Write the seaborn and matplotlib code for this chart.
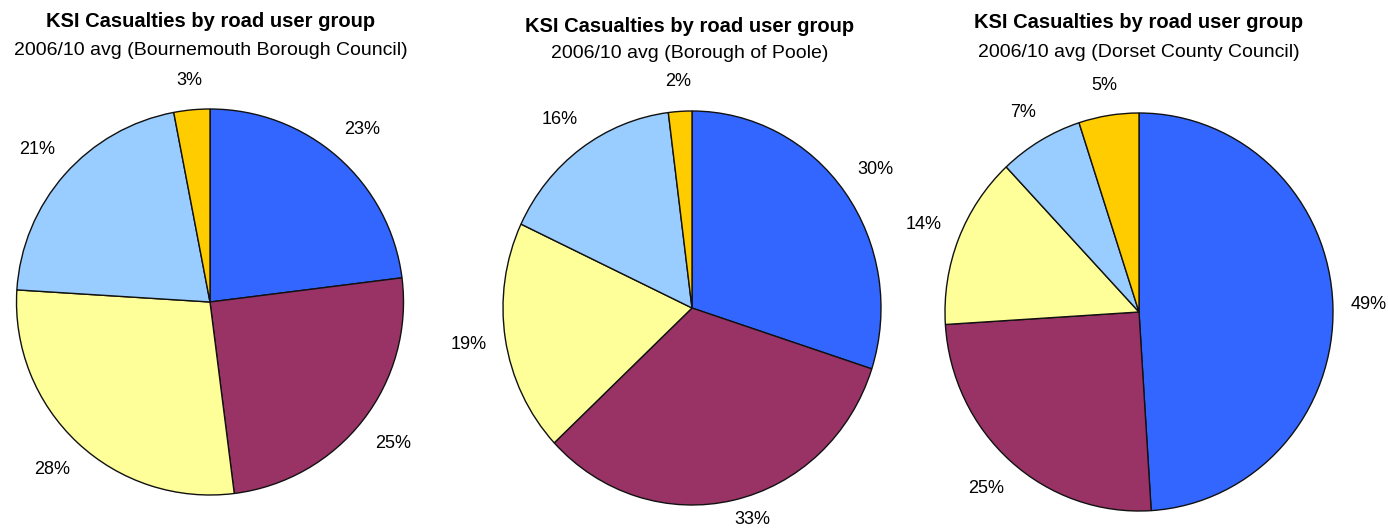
import matplotlib
matplotlib.use("Agg")
import numpy as np
import matplotlib.pyplot as plt
import seaborn as sns

# %% Data
groups = ['Car', 'Motorcycle', 'Pedestrian', 'Pedal cycle', 'Other']
councils = ['Bournemouth Borough Council', 'Borough of Poole', 'Dorset County Council']
bournemouth = [23, 25, 28, 21, 3]
poole = [30, 33, 19, 16, 2]
dorset = [49, 25, 14, 7, 5]
shares = [bournemouth, poole, dorset]

colours = sns.color_palette(['#3366FF', '#993366', '#FFFF99', '#99CCFF', '#FFCC00'])

sns.set_style("white")
plt.rcParams['font.family'] = ['Liberation Sans', 'DejaVu Sans']
plt.rcParams['text.color'] = 'black'

W, H = 1388, 530
fig = plt.figure(figsize=(W / 100, H / 100), dpi=100)

# pie centre x, y (px), radius x, y (px), title baseline, subtitle baseline, title centre x
layout = [
    (210, 302, 193.5, 193, 27, 55, 211),
    (692, 308, 189, 197, 32, 58, 690),
    (1139, 312, 194, 199, 28, 57, 1139),
]

gap = 21      # px between pie edge and label box
hw, hh = 15, 8  # approx half width / half height of a label in px

for vals, name, (cx, cy, rx, ry, tb, sb, tx) in zip(shares, councils, layout):
    ax = fig.add_axes([(cx - rx) / W, (H - cy - ry) / H, 2 * rx / W, 2 * ry / H])
    wedges, _ = ax.pie(vals, colors=colours, startangle=90, counterclock=False, radius=1,
                       wedgeprops=dict(edgecolor='#111111', linewidth=1.0))
    ax.set_xlim(-1, 1)
    ax.set_ylim(-1, 1)
    ax.set_aspect('auto')
    ax.axis('off')

    # lowest label centre allowed so nothing drops off the bottom edge
    y_min = -(H - 11 - cy) / ry

    # Place the percentage labels just outside the pie edge, Excel style
    for w, v in zip(wedges, vals):
        theta = np.deg2rad((w.theta1 + w.theta2) / 2)
        c, s = np.cos(theta), np.sin(theta)
        half_w = hw if v >= 10 else hw * 0.7
        d = gap + half_w * abs(c) + hh * abs(s)
        lx, ly = c * (1 + d / rx), s * (1 + d / ry)
        if ly < y_min:
            lx, ly = lx + 12 / rx, y_min
        ax.text(lx, ly, f"{v}%", ha='center', va='center', fontsize=13, clip_on=False)

    fig.text(tx / W, 1 - tb / H, "KSI Casualties by road user group",
             ha='center', va='baseline', fontsize=14.5, fontweight='bold')
    fig.text(tx / W, 1 - sb / H, f"2006/10 avg ({name})",
             ha='center', va='baseline', fontsize=14)

plt.savefig("out.png", dpi=100)
